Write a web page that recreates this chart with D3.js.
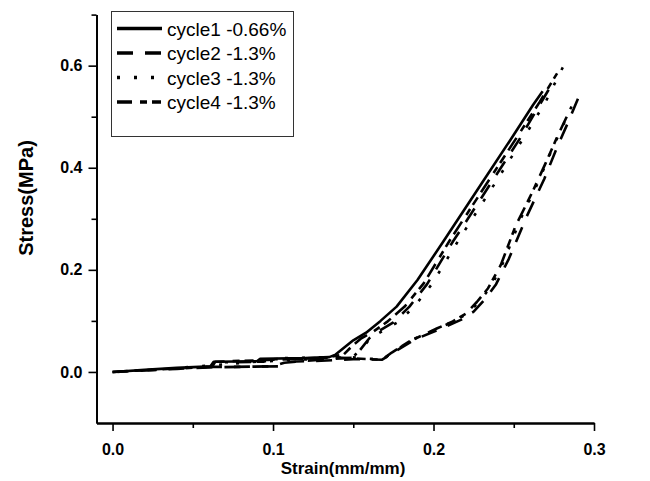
<!doctype html>
<html lang="en">
<head>
    <title>Stress-strain cycles</title>
    <script src="https://d3js.org/d3.v7.min.js"></script>
    <style>
        body { margin: 0; background: #fff; }
        text { font-family: "Liberation Sans", Arial, sans-serif; }
    </style>
</head>
<body>
<script>
    // Series: [strain, stress] pairs, loading branch (upper) and unloading branch (lower)
    var cycle1Load = [[0,0],[0.02,0.004],[0.04,0.008],[0.061,0.011],[0.063,0.02],[0.09,0.021],[0.092,0.026],
        [0.12,0.027],[0.135,0.029],[0.139,0.034],[0.144,0.047],[0.15,0.062],[0.158,0.077],[0.167,0.1],
        [0.177,0.128],[0.19,0.18],[0.206,0.255],[0.228,0.36],[0.248,0.455],[0.262,0.523],[0.268,0.55]];
    var cycle2Load = [[0,0],[0.04,0.006],[0.06,0.009],[0.1,0.011],[0.107,0.018],[0.13,0.024],[0.15,0.028],
        [0.154,0.042],[0.16,0.066],[0.166,0.08],[0.175,0.097],[0.185,0.128],[0.196,0.172],[0.212,0.255],
        [0.221,0.298],[0.237,0.376],[0.254,0.458],[0.264,0.512],[0.275,0.57]];
    var cycle3Load = [[0.003,0],[0.05,0.01],[0.09,0.02],[0.13,0.026],[0.15,0.03],[0.155,0.045],[0.161,0.067],
        [0.168,0.08],[0.178,0.098],[0.188,0.128],[0.199,0.172],[0.215,0.255],[0.24,0.378],[0.258,0.468],
        [0.27,0.53],[0.276,0.568],[0.283,0.612]];
    var cycle4Load = [[0,0],[0.03,0.005],[0.062,0.01],[0.064,0.02],[0.13,0.027],[0.144,0.034],[0.149,0.05],
        [0.155,0.066],[0.162,0.078],[0.171,0.098],[0.182,0.128],[0.194,0.174],[0.21,0.257],[0.235,0.378],
        [0.252,0.46],[0.266,0.528],[0.277,0.585]];
    var cycle2Unload = [[0.29,0.535],[0.284,0.49],[0.277,0.44],[0.269,0.378],[0.258,0.304],[0.247,0.222],
        [0.239,0.172],[0.232,0.142],[0.225,0.118],[0.217,0.102],[0.207,0.088],[0.188,0.063],[0.176,0.04],
        [0.168,0.024],[0.15,0.025],[0.13,0.022],[0.108,0.02],[0.105,0.011],[0.075,0.01],[0.055,0.01]];
    var cycle3Unload = [[0.286,0.52],[0.28,0.478],[0.273,0.43],[0.265,0.37],[0.254,0.298],[0.244,0.218],
        [0.236,0.168],[0.229,0.14],[0.222,0.116],[0.214,0.101],[0.204,0.087],[0.186,0.062],[0.175,0.039],
        [0.168,0.024],[0.145,0.03],[0.12,0.028],[0.1,0.027]];
    var cycle4Unload = [[0.283,0.5],[0.277,0.46],[0.27,0.41],[0.262,0.355],[0.251,0.285],[0.242,0.21],
        [0.234,0.164],[0.227,0.137],[0.22,0.114],[0.212,0.099],[0.202,0.085],[0.185,0.06],[0.174,0.038],
        [0.168,0.024],[0.14,0.028],[0.1,0.025],[0.094,0.02],[0.07,0.019]];

    var legendLabels = ["cycle1 -0.66%", "cycle2 -1.3%", "cycle3 -1.3%", "cycle4 -1.3%"];
    var xTicks = [0, 0.1, 0.2, 0.3];
    var xMinor = [0.05, 0.15, 0.25];
    var yTicks = [0, 0.2, 0.4, 0.6];
    var yMinor = [0.1, 0.3, 0.5, 0.7];

    const width = 650, height = 481;
    const dashes = [null, "16,12", "3,14", "15,8,7,5,9,6"];

    const svg = d3.select("body").append("svg")
        .attr("width", width)
        .attr("height", height);

    const x = d3.scaleLinear().domain([-0.01, 0.3]).range([96.5, 594]);
    const y = d3.scaleLinear().domain([-0.1, 0.7]).range([423, 14.6]);

    // Axes
    const xAxis = svg.append("g").attr("transform", "translate(0," + y(-0.1) + ")")
        .call(d3.axisBottom(x).tickValues(xTicks).tickFormat(d3.format(".1f")).tickSize(8).tickSizeOuter(0));
    svg.append("g").attr("transform", "translate(0," + y(-0.1) + ")")
        .call(d3.axisBottom(x).tickValues(xMinor).tickFormat("").tickSize(5).tickSizeOuter(0));
    const yAxis = svg.append("g").attr("transform", "translate(" + x(-0.01) + ",0)")
        .call(d3.axisLeft(y).tickValues(yTicks).tickFormat(d3.format(".1f")).tickSize(8).tickSizeOuter(0));
    svg.append("g").attr("transform", "translate(" + x(-0.01) + ",0)")
        .call(d3.axisLeft(y).tickValues(yMinor).tickFormat("").tickSize(5).tickSizeOuter(0));

    svg.selectAll(".domain").attr("stroke", "#000").attr("stroke-width", 1.8);
    svg.selectAll(".tick line").attr("stroke", "#000").attr("stroke-width", 1.6);
    svg.selectAll(".tick text").attr("fill", "#000")
        .style("font-size", "16px").style("font-weight", "bold")
        .style("font-family", "'Liberation Sans', Arial, sans-serif");
    xAxis.selectAll(".tick text").attr("dy", "1.3em");
    yAxis.selectAll(".tick text").attr("x", -14);

    // Axis titles
    svg.append("text")
        .attr("x", 343).attr("y", 474)
        .attr("text-anchor", "middle")
        .style("font-size", "17px").style("font-weight", "bold")
        .text("Strain(mm/mm)");
    svg.append("text")
        .attr("transform", "translate(33,198) rotate(-90)")
        .attr("text-anchor", "middle")
        .style("font-size", "20px").style("font-weight", "bold")
        .text("Stress(MPa)");

    // Curves
    const line = d3.line()
        .x(function(d) { return x(d[0]); })
        .y(function(d) { return y(d[1]); });
    const branches = [
        [cycle1Load, 0], [cycle2Load, 1], [cycle3Load, 2], [cycle4Load, 3],
        [cycle2Unload, 1], [cycle3Unload, 2], [cycle4Unload, 3]
    ];
    svg.append("g").selectAll("path")
        .data(branches)
        .enter()
        .append("path")
        .attr("d", function(d) { return line(d[0]); })
        .attr("fill", "none")
        .attr("stroke", "#000")
        .attr("stroke-width", 2.6)
        .attr("stroke-linejoin", "round")
        .attr("stroke-dasharray", function(d) { return dashes[d[1]]; });

    // Legend
    const legend = svg.append("g");
    legend.append("rect")
        .attr("x", 111.5).attr("y", 11.5)
        .attr("width", 182).attr("height", 125)
        .attr("fill", "#fff").attr("stroke", "#333").attr("stroke-width", 1);
    const rows = legend.selectAll("g.row")
        .data(legendLabels)
        .enter()
        .append("g")
        .attr("class", "row")
        .attr("transform", function(d, i) { return "translate(0," + (28.5 + i * 24.5) + ")"; });
    rows.append("line")
        .attr("x1", 117).attr("x2", 162)
        .attr("stroke", "#000").attr("stroke-width", 3.5)
        .attr("stroke-dasharray", function(d, i) { return dashes[i]; });
    rows.append("text")
        .attr("x", 167).attr("y", 7)
        .style("font-size", "19px")
        .text(function(d) { return d; });
</script>
</body>
</html>
